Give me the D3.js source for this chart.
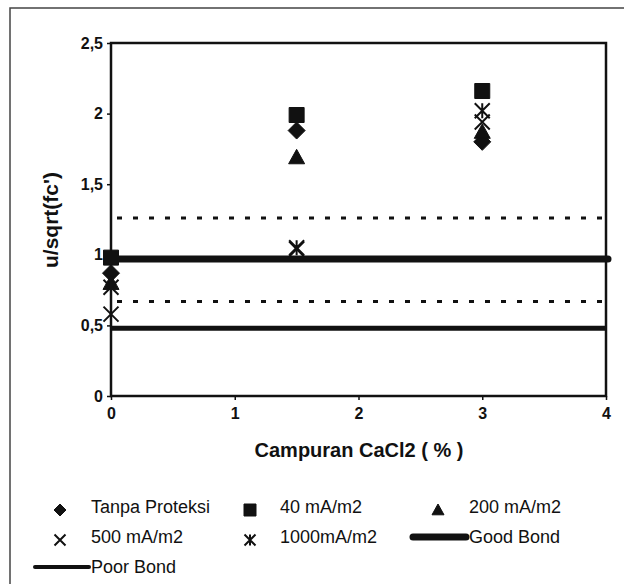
<!DOCTYPE html>
<html>
<head>
<meta charset="utf-8">
<script src="https://d3js.org/d3.v7.min.js"></script>
<style>
  body { margin:0; background:#fff; }
  text { font-family: Arial, "Liberation Sans", sans-serif; fill:#111; }
  .tick-label { font-size: 16px; font-weight: bold; }
  .axis-title { font-size: 20px; font-weight: bold; }
  .legend-text { font-size: 18px; }
</style>
</head>
<body>
<script>
  // data
  var xValues = [0, 1.5, 3];
  var tanpaProteksi = [0.87, 1.88, 1.80];
  var mA40 = [0.98, 1.99, 2.16];
  var mA200 = [0.80, 1.69, 1.87];
  var mA500 = [0.58, 1.04, 1.94];
  var mA1000 = [0.77, 1.05, 2.02];
  var goodBond = 0.97, poorBond = 0.48;
  var dottedLevels = [1.26, 0.67];
  var xTicks = [0, 1, 2, 3, 4];
  var yTicks = [0, 0.5, 1, 1.5, 2, 2.5];

  var w = 624, h = 584;
  var svg = d3.select("body").append("svg").attr("width", w).attr("height", h);

  // outer frame
  svg.append("rect").attr("x", 10).attr("y", 8).attr("width", 640).attr("height", 640)
    .attr("fill", "none").attr("stroke", "#444").attr("stroke-width", 1.5);

  var x = d3.scaleLinear().domain([0, 4]).range([111, 606]);
  var y = d3.scaleLinear().domain([0, 2.5]).range([396, 43]);

  var fmt = function(d) { return String(d).replace(".", ","); };

  var gx = svg.append("g").attr("transform", "translate(0,396)")
    .call(d3.axisBottom(x).tickValues(xTicks).tickFormat(fmt).tickSize(4).tickPadding(8));
  var gy = svg.append("g").attr("transform", "translate(111,0)")
    .call(d3.axisLeft(y).tickValues(yTicks).tickFormat(fmt).tickSize(4).tickPadding(4));
  [gx, gy].forEach(function(g) {
    g.select(".domain").remove();
    g.selectAll("line").attr("stroke", "#111").attr("stroke-width", 1.5);
    g.selectAll("text").attr("class", "tick-label").attr("font-size", null).attr("font-family", null);
  });

  // plot frame
  svg.append("rect").attr("x", x(0)).attr("y", y(2.5))
    .attr("width", x(4) - x(0)).attr("height", y(0) - y(2.5))
    .attr("fill", "none").attr("stroke", "#111").attr("stroke-width", 2.5);

  // reference lines
  dottedLevels.forEach(function(v) {
    svg.append("line").attr("x1", x(0) + 6).attr("x2", x(4)).attr("y1", y(v)).attr("y2", y(v))
      .attr("stroke", "#111").attr("stroke-width", 3).attr("stroke-dasharray", "5,11");
  });
  svg.append("line").attr("x1", x(0)).attr("x2", x(4) + 2).attr("y1", y(goodBond)).attr("y2", y(goodBond))
    .attr("stroke", "#111").attr("stroke-width", 7).attr("stroke-linecap", "round");
  svg.append("line").attr("x1", x(0)).attr("x2", x(4)).attr("y1", y(poorBond)).attr("y2", y(poorBond))
    .attr("stroke", "#111").attr("stroke-width", 5);

  // marker shapes
  function diamond(r) { return "M0," + (-r) + "L" + r + ",0L0," + r + "L" + (-r) + ",0Z"; }
  function square(r) { return "M" + (-r) + "," + (-r) + "H" + r + "V" + r + "H" + (-r) + "Z"; }
  function triangle(r) { return "M0," + (-r) + "L" + r + "," + r * 0.8 + "H" + (-r) + "Z"; }
  function cross(r) { return "M" + (-r) + "," + (-r) + "L" + r + "," + r + "M" + (-r) + "," + r + "L" + r + "," + (-r); }
  function star(r) { return cross(r) + "M0," + (-r) + "V" + r; }

  var series = [
    {name: "Tanpa Proteksi", values: tanpaProteksi, shape: diamond, r: 8.5, fill: true},
    {name: "40 mA/m2", values: mA40, shape: square, r: 7.5, fill: true},
    {name: "200 mA/m2", values: mA200, shape: triangle, r: 8, fill: true},
    {name: "500 mA/m2", values: mA500, shape: cross, r: 7.5, fill: false},
    {name: "1000mA/m2", values: mA1000, shape: star, r: 7.5, fill: false}
  ];

  function drawMarker(g, s, cx, cy, r) {
    g.append("path").attr("d", s.shape(r)).attr("transform", "translate(" + cx + "," + cy + ")")
      .attr("fill", s.fill ? "#111" : "none").attr("stroke", "#111").attr("stroke-width", s.fill ? 1 : 2);
  }

  var gm = svg.append("g");
  series.forEach(function(s) {
    s.values.forEach(function(v, i) { drawMarker(gm, s, x(xValues[i]), y(v), s.r); });
  });

  // axis titles
  svg.append("text").attr("class", "axis-title").attr("x", 359).attr("y", 457)
    .attr("text-anchor", "middle").text("Campuran CaCl2 ( % )");
  svg.append("text").attr("class", "axis-title").attr("transform", "translate(58,220) rotate(-90)")
    .attr("text-anchor", "middle").style("font-size", "21px").text("u/sqrt(fc')");

  // legend
  var lg = svg.append("g");
  var legPos = [[60, 91, 508], [250, 280, 508], [438, 469, 508], [60, 91, 538], [250, 280, 538]];
  series.forEach(function(s, i) {
    var p = legPos[i];
    drawMarker(lg, s, p[0], p[2] + 2, s.fill ? 6 : 5.5);
    lg.append("text").attr("class", "legend-text").attr("x", p[1]).attr("y", p[2] + 5).text(s.name);
  });
  lg.append("line").attr("x1", 413).attr("x2", 466).attr("y1", 537).attr("y2", 537)
    .attr("stroke", "#111").attr("stroke-width", 7).attr("stroke-linecap", "round");
  lg.append("text").attr("class", "legend-text").attr("x", 469).attr("y", 543).text("Good Bond");
  lg.append("line").attr("x1", 35).attr("x2", 89).attr("y1", 567).attr("y2", 567)
    .attr("stroke", "#111").attr("stroke-width", 4).attr("stroke-linecap", "round");
  lg.append("text").attr("class", "legend-text").attr("x", 91).attr("y", 573).text("Poor Bond");
</script>
</body>
</html>
